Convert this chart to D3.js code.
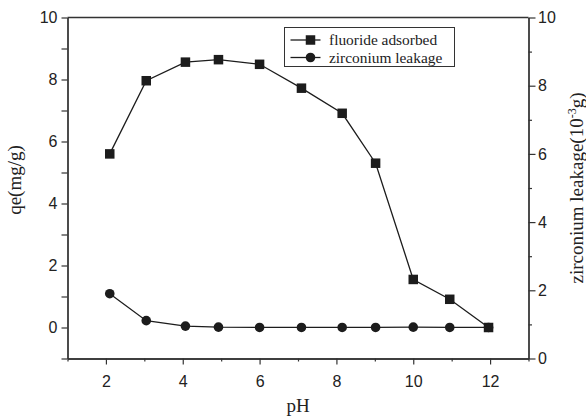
<!DOCTYPE html>
<html>
<head>
<meta charset="utf-8">
<script src="https://cdn.jsdelivr.net/npm/d3@7"></script>
<style>
  html, body { margin: 0; padding: 0; background: #fff; }
  svg { display: block; }
  .tick text { font-family: "Liberation Sans", Arial, sans-serif; font-size: 16px; fill: #222; }
  .title { font-family: "Liberation Serif", "Times New Roman", serif; font-size: 19px; fill: #222; }
  .legend text { font-family: "Liberation Serif", "Times New Roman", serif; font-size: 15.4px; fill: #222; }
</style>
</head>
<body>
<svg id="chart" width="586" height="418"></svg>
<script>
// pH values of the adsorption runs
const pH = [2.1, 3.05, 4.07, 4.93, 6.0, 7.09, 8.15, 9.02, 10.0, 10.95, 11.96];
// fluoride adsorbed, qe (mg/g) — left axis
const fluorideAdsorbed = [5.6, 7.96, 8.56, 8.64, 8.49, 7.72, 6.91, 5.30, 1.55, 0.91, 0.0];
// zirconium leakage (10^-3 g) — right axis
const zirconiumLeakage = [1.90, 1.11, 0.95, 0.92, 0.91, 0.91, 0.91, 0.91, 0.92, 0.91, 0.91];

const xTicks = [2, 4, 6, 8, 10, 12];
const yLeftTicks = [0, 2, 4, 6, 8, 10];
const yRightTicks = [0, 2, 4, 6, 8, 10];
const seriesNames = ["fluoride adsorbed", "zirconium leakage"];

const svg = d3.select("#chart");
const m = { left: 67.5, right: 528.5, top: 17.5, bottom: 358.5 };
const ink = "#1c1c1c";

const x = d3.scaleLinear().domain([1, 13]).range([m.left, m.right]);
const yL = d3.scaleLinear().domain([-1, 10]).range([m.bottom, m.top]);
const yR = d3.scaleLinear().domain([0, 10]).range([m.bottom, m.top]);

function styleAxis(g) {
  g.selectAll("path.domain").attr("stroke", "#333").attr("stroke-width", 1.3);
  g.selectAll(".tick line").attr("stroke", "#333").attr("stroke-width", 1.2);
}

// bottom axis: minor ticks on odd values, labels on even values
svg.append("g")
  .attr("transform", `translate(0,${m.bottom})`)
  .call(d3.axisBottom(x).tickValues(d3.range(1, 14, 2)).tickSize(3).tickFormat("").tickSizeOuter(0))
  .call(styleAxis);
svg.append("g")
  .attr("transform", `translate(0,${m.bottom})`)
  .call(d3.axisBottom(x).tickValues(xTicks).tickSize(6).tickPadding(11).tickFormat(d3.format("d")).tickSizeOuter(0))
  .call(styleAxis);

// left axis
svg.append("g")
  .attr("transform", `translate(${m.left},0)`)
  .call(d3.axisLeft(yL).tickValues([-1, 1, 3, 5, 7, 9]).tickSize(6).tickFormat("").tickSizeOuter(0))
  .call(styleAxis);
svg.append("g")
  .attr("transform", `translate(${m.left},0)`)
  .call(d3.axisLeft(yL).tickValues(yLeftTicks).tickSize(6).tickPadding(4).tickFormat(d3.format("d")).tickSizeOuter(0))
  .call(styleAxis);

// right axis
svg.append("g")
  .attr("transform", `translate(${m.right},0)`)
  .call(d3.axisRight(yR).tickValues([1, 3, 5, 7, 9]).tickSize(3.5).tickFormat("").tickSizeOuter(0))
  .call(styleAxis);
svg.append("g")
  .attr("transform", `translate(${m.right},0)`)
  .call(d3.axisRight(yR).tickValues(yRightTicks).tickSize(7).tickPadding(2.5).tickFormat(d3.format("d")).tickSizeOuter(0))
  .call(styleAxis);

// top border
svg.append("line")
  .attr("x1", m.left).attr("x2", m.right).attr("y1", m.top).attr("y2", m.top)
  .attr("stroke", "#333").attr("stroke-width", 1.3);

// axis titles
svg.append("text").attr("class", "title")
  .attr("x", 298).attr("y", 412)
  .attr("text-anchor", "middle").text("pH");

svg.append("text").attr("class", "title")
  .attr("transform", `translate(21,180) rotate(-90)`)
  .attr("text-anchor", "middle").text("qe(mg/g)");

const rt = svg.append("text").attr("class", "title")
  .attr("transform", `translate(583,188) rotate(-90)`)
  .attr("text-anchor", "middle");
rt.append("tspan").text("zirconium  leakage(10");
rt.append("tspan").attr("dy", -7).attr("font-size", "12px").text("-3");
rt.append("tspan").attr("dy", 7).text("g)");

// series lines
const lineF = d3.line().x((d, i) => x(pH[i])).y(d => yL(d));
const lineZ = d3.line().x((d, i) => x(pH[i])).y(d => yR(d));

svg.append("path").datum(fluorideAdsorbed)
  .attr("d", lineF).attr("fill", "none").attr("stroke", ink).attr("stroke-width", 1.3);
svg.append("path").datum(zirconiumLeakage)
  .attr("d", lineZ).attr("fill", "none").attr("stroke", ink).attr("stroke-width", 1.3);

const sq = 9.5;
svg.append("g").selectAll("rect").data(fluorideAdsorbed).join("rect")
  .attr("x", (d, i) => x(pH[i]) - sq / 2).attr("y", d => yL(d) - sq / 2)
  .attr("width", sq).attr("height", sq).attr("fill", ink);

svg.append("g").selectAll("circle").data(zirconiumLeakage).join("circle")
  .attr("cx", (d, i) => x(pH[i])).attr("cy", d => yR(d))
  .attr("r", 4.8).attr("fill", ink);

// legend
const lg = svg.append("g").attr("class", "legend");
lg.append("rect").attr("x", 284.5).attr("y", 27.5).attr("width", 170).attr("height", 39)
  .attr("fill", "#fff").attr("stroke", "#333").attr("stroke-width", 1);
seriesNames.forEach((name, i) => {
  const cy = 40 + i * 17.5;
  lg.append("line").attr("x1", 290.5).attr("x2", 320.5).attr("y1", cy).attr("y2", cy)
    .attr("stroke", ink).attr("stroke-width", 1.3);
  if (i === 0) {
    lg.append("rect").attr("x", 310.5 - sq / 2).attr("y", cy - sq / 2).attr("width", sq).attr("height", sq).attr("fill", ink);
  } else {
    lg.append("circle").attr("cx", 310.5).attr("cy", cy).attr("r", 4.8).attr("fill", ink);
  }
  lg.append("text").attr("x", 329).attr("y", cy + 5).text(name);
});
</script>
</body>
</html>
